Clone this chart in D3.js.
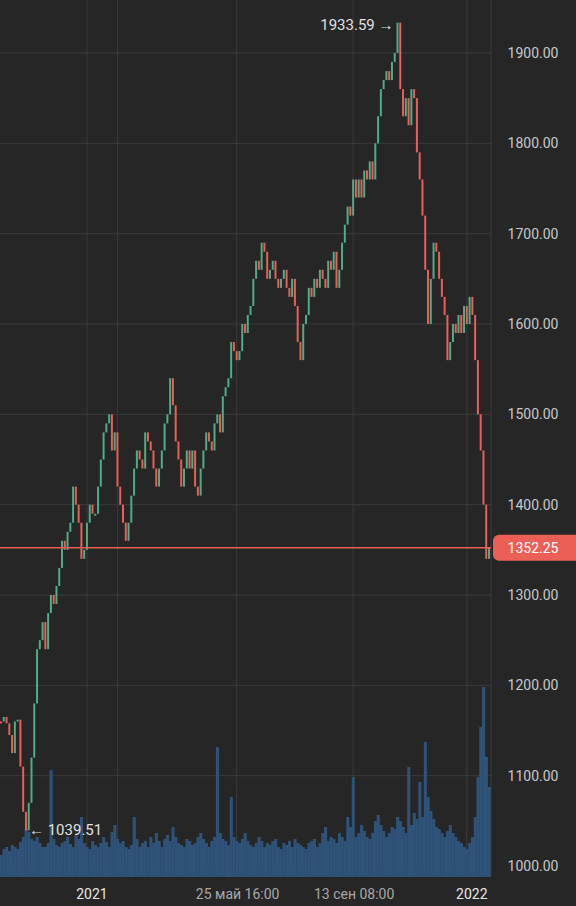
<!DOCTYPE html>
<html>
<head>
<meta charset="utf-8">
<script src="https://cdn.jsdelivr.net/npm/d3@7"></script>
<style>
  body { margin: 0; background: #262626; }
  svg { display: block; font-family: Roboto, sans-serif; }
</style>
</head>
<body>
<svg width="576" height="906"></svg>
<script>
var canvas = d3.select("svg");

// closing prices, one per candle
var closes = [
  1160, 1165, 1158, 1145, 1125, 1160, 1162, 1110, 1060, 1039.51, 1070, 1120, 1180, 1240, 1250, 1270,
  1240, 1280, 1300, 1290, 1310, 1330, 1360, 1350, 1370, 1380, 1420, 1400, 1380, 1340,
  1350, 1380, 1400, 1390, 1390, 1420, 1450, 1480, 1490, 1500, 1460, 1480, 1420, 1400,
  1380, 1360, 1380, 1410, 1440, 1460, 1450, 1440, 1480, 1470, 1460, 1440, 1420, 1440,
  1460, 1490, 1500, 1540, 1510, 1470, 1450, 1420, 1440, 1460, 1440, 1460, 1420, 1410,
  1440, 1460, 1480, 1470, 1460, 1490, 1500, 1480, 1520, 1530, 1540, 1580, 1570, 1560,
  1570, 1600, 1590, 1610, 1620, 1650, 1670, 1660, 1690, 1680, 1650, 1660, 1670, 1650,
  1640, 1650, 1660, 1640, 1630, 1650, 1620, 1580, 1560, 1600, 1610, 1640, 1630, 1650,
  1640, 1660, 1650, 1640, 1670, 1660, 1680, 1640, 1660, 1690, 1710, 1730, 1720, 1760,
  1740, 1760, 1740, 1770, 1760, 1780, 1760, 1800, 1830, 1860, 1870, 1880, 1870, 1890,
  1900, 1933.59, 1860, 1830, 1850, 1820, 1860, 1850, 1790, 1760, 1720, 1660, 1600, 1650,
  1690, 1680, 1650, 1630, 1610, 1560, 1580, 1600, 1590, 1610, 1590, 1620, 1600, 1630,
  1610, 1560, 1500, 1460, 1400, 1340, 1352.25
];

// trading volume per candle (relative units)
var volumes = [
  22, 28, 30, 26, 32, 30, 28, 35, 40, 48, 45, 38, 36, 40, 34, 30,
  30, 34, 107, 38, 32, 30, 34, 36, 40, 33, 30, 42, 38, 60,
  34, 30, 28, 36, 32, 30, 34, 40, 35, 30, 45, 52, 38, 34,
  36, 30, 28, 32, 60, 38, 30, 34, 36, 30, 40, 34, 44, 36,
  30, 38, 42, 36, 50, 40, 34, 32, 30, 38, 36, 32, 34, 40,
  44, 38, 34, 30, 36, 40, 130, 44, 38, 36, 32, 80, 40, 36,
  34, 38, 44, 36, 32, 30, 34, 40, 36, 30, 34, 32, 36, 38,
  30, 28, 34, 32, 36, 30, 38, 34, 32, 30, 28, 34, 36, 38,
  30, 34, 44, 50, 36, 40, 38, 34, 44, 40, 36, 60, 50, 100,
  40, 44, 52, 46, 40, 38, 44, 56, 62, 52, 46, 40, 44, 50,
  48, 60, 56, 50, 44, 110, 52, 64, 58, 95, 60, 135, 80, 66,
  58, 50, 48, 44, 40, 46, 52, 44, 40, 36, 34, 30, 28, 34,
  40, 60, 100, 150, 190, 120, 90
];

// x-axis labels placed at candle indices
var tickIndex = [31, 42, 85, 127, 168];
var tickLabels = ["2021", "", "25 май 16:00", "13 сен 08:00", "2022"];
var priceTicks = [1000, 1100, 1200, 1300, 1400, 1500, 1600, 1700, 1800, 1900];
var lastPrice = 1352.25;

var plotLeft = 0, plotRight = 491, plotBottom = 877;

var xScale = d3.scaleLinear()
    .domain([0, closes.length - 1])
    .range([1, 489]);

var yScale = d3.scaleLinear()
    .domain([1000, 1900])
    .range([866, 53]);

var volScale = d3.scaleLinear()
    .domain([0, 200])
    .range([plotBottom, plotBottom - 200]);

var colorUp = "#4fae87";
var colorDown = "#ec5f57";
var gridColor = "#3a3a3a";
var step = xScale(1) - xScale(0);

canvas.append("rect").attr("width", 576).attr("height", 906).attr("fill", "#262626");

// grid
canvas.append("g").selectAll("line").data(priceTicks).enter().append("line")
    .attr("x1", plotLeft).attr("x2", plotRight)
    .attr("y1", d => yScale(d)).attr("y2", d => yScale(d))
    .attr("stroke", gridColor);
canvas.append("g").selectAll("line").data(tickIndex).enter().append("line")
    .attr("x1", d => xScale(d)).attr("x2", d => xScale(d))
    .attr("y1", 0).attr("y2", plotBottom)
    .attr("stroke", gridColor);
canvas.append("line").attr("x1", plotRight).attr("x2", plotRight)
    .attr("y1", 0).attr("y2", plotBottom).attr("stroke", gridColor);

// volume
canvas.append("g").selectAll("rect").data(volumes).enter().append("rect")
    .attr("x", (d, i) => xScale(i) - step / 2)
    .attr("width", step + 0.3)
    .attr("y", d => volScale(d))
    .attr("height", d => plotBottom - volScale(d))
    .attr("fill", "#2f5278");

// candles
var candles = canvas.append("g").selectAll("g").data(closes).enter().append("g");
candles.append("rect")
    .attr("x", (d, i) => xScale(i) - step / 2 + 0.4)
    .attr("width", step - 0.8)
    .attr("y", (d, i) => yScale(Math.max(d, i ? closes[i - 1] : d)))
    .attr("height", (d, i) => Math.max(2, Math.abs(yScale(d) - yScale(i ? closes[i - 1] : d))))
    .attr("fill", (d, i) => (i && d >= closes[i - 1]) ? colorUp : colorDown);

// last price line
canvas.append("line")
    .attr("x1", 0).attr("x2", plotRight)
    .attr("y1", yScale(lastPrice)).attr("y2", yScale(lastPrice))
    .attr("stroke", colorDown).attr("stroke-width", 1.5);

// y axis labels
canvas.append("g").selectAll("text").data(priceTicks).enter().append("text")
    .attr("x", 533).attr("y", d => yScale(d) + 5)
    .attr("text-anchor", "middle")
    .attr("fill", "#c8c8c8").style("font-size", "14px")
    .text(d => d.toFixed(2));

// price tag
canvas.append("rect")
    .attr("x", 493).attr("y", yScale(lastPrice) - 13)
    .attr("width", 90).attr("height", 26).attr("rx", 6)
    .attr("fill", colorDown);
canvas.append("text")
    .attr("x", 533).attr("y", yScale(lastPrice) + 5)
    .attr("text-anchor", "middle").attr("fill", "#fff")
    .style("font-size", "14px").text(lastPrice.toFixed(2));

// x axis labels
canvas.append("g").selectAll("text").data(tickLabels).enter().append("text")
    .attr("x", (d, i) => xScale(tickIndex[i]) + (d.length > 4 ? 1 : 5))
    .attr("y", 899)
    .attr("text-anchor", "middle")
    .attr("fill", d => d.length == 4 ? "#e6e6e6" : "#a8a8a8")
    .style("font-size", "14px")
    .text(d => d);

// max / min annotations
var maxI = d3.maxIndex(closes), minI = d3.minIndex(closes);
canvas.append("text")
    .attr("x", xScale(maxI) - 4).attr("y", yScale(closes[maxI]) + 7)
    .attr("text-anchor", "end").attr("fill", "#e0e0e0").style("font-size", "15px")
    .text(closes[maxI].toFixed(2) + " →");
canvas.append("text")
    .attr("x", xScale(minI) + 3).attr("y", yScale(closes[minI]) + 5)
    .attr("text-anchor", "start").attr("fill", "#e0e0e0").style("font-size", "15px")
    .text("← " + closes[minI].toFixed(2));
</script>
</body>
</html>
